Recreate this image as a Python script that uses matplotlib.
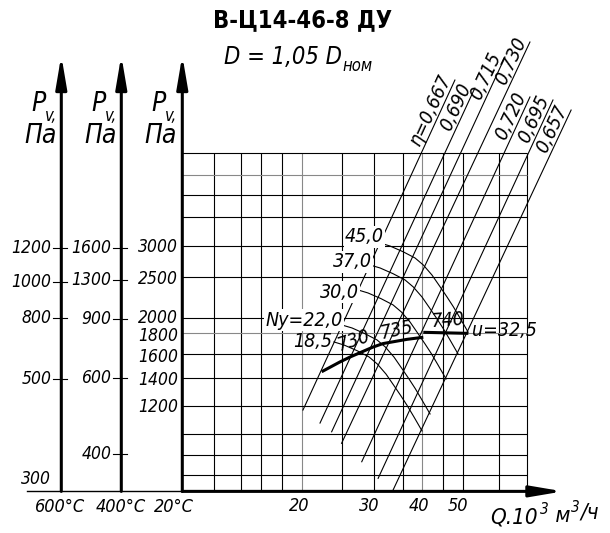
import numpy as np
import matplotlib
matplotlib.use('Agg')
import matplotlib.pyplot as plt
import matplotlib.transforms as mtransforms
from matplotlib import font_manager
from matplotlib.font_manager import FontProperties

# === Fonts: look for a narrow face, it is closest to the drafting font ===
PREFER = ['liberationsansnarrow', 'dejavusanscondensed', 'robotocondensed',
          'opensanscondensed', 'opensans_condensed', 'notosanscondensed', 'condensed', 'narrow']


def find_face(italic, bold):
    best, best_rank = None, 99
    for f in font_manager.fontManager.ttflist:
        fn = f.fname.lower().replace('-', '').replace(' ', '')
        rank = next((i for i, k in enumerate(PREFER) if k in fn), None)
        if rank is None:
            continue
        is_it = ('italic' in fn) or ('oblique' in fn)
        is_bf = 'bold' in fn and 'semibold' not in fn
        if is_it != italic or is_bf != bold:
            continue
        if any(k in fn for k in ('light', 'thin', 'medium', 'black', 'extra', 'semi')):
            continue
        if rank < best_rank:
            best, best_rank = f.fname, rank
    return best


IT_FILE = find_face(True, False)
BF_FILE = find_face(False, True)
SCALE = 1.0 if IT_FILE else 0.82


def fp(size, bold=False):
    size = size * (1.0 if (BF_FILE if bold else IT_FILE) else SCALE)
    if bold:
        if BF_FILE:
            return FontProperties(fname=BF_FILE, size=size)
        return FontProperties(family='DejaVu Sans', weight='bold', size=size)
    if IT_FILE:
        return FontProperties(fname=IT_FILE, size=size)
    return FontProperties(family='DejaVu Sans', style='oblique', size=size)


# === Data (Q in 10^3 m3/h, P in Pa on the 20 C scale) ===
grid_q = [12, 14, 15.8, 17.8, 20, 25.2, 30.2, 35.7, 40, 45, 50.5, 62.4, 73.3]
grid_p = [809, 907, 1021, 1200, 1411, 1613, 1818, 1988, 2504, 3000, 3528, 4008, 4494, 5086]
q_ticks = [20, 30, 40, 50]
p20_ticks = [3000, 2500, 2000, 1800, 1600, 1400, 1200]

# side scales: label text and the 20 C pressure at the same height
p400_labels = ['1600', '1300', '900', '600', '400']
p400_pos = [2966, 2466, 1974, 1411, 911]
p600_labels = ['1200', '1000', '800', '500', '300']
p600_pos = [2966, 2442, 1982, 1397, 791]

# efficiency lines
eta_labels = ['η=0,667', '0,690', '0,715', '0,730', '0,720', '0,695', '0,657']
eta_q0 = [20.08, 22.16, 23.7, 25.1, 28.2, 31.0, 33.8]
eta_p0 = [1173, 1089, 1036, 970, 873, 794, 743]
eta_q1 = [48.3, 54.2, 64.5, 74.5, 74.5, 85.1, 94.5]
eta_p1 = [7731, 7386, 8816, 9607, 7018, 6898, 6513]

# P-Q curves for each motor power
q_45 = [31.33, 33.20, 35.79, 38.36, 40.24, 42.31, 44.32, 46.15, 47.86, 49.74, 52.11]
p_45 = [3047, 2995, 2899, 2797, 2687, 2537, 2374, 2238, 2117, 1985, 1832]
q_37 = [29.57, 31.34, 33.78, 36.21, 37.98, 39.94, 41.84, 43.56, 45.18, 46.95, 49.19]
p_37 = [2687, 2642, 2557, 2467, 2370, 2238, 2094, 1974, 1867, 1751, 1616]
q_30 = [27.60, 29.24, 31.52, 33.79, 35.44, 37.27, 39.04, 40.65, 42.16, 43.81, 45.90]
p_30 = [2330, 2290, 2217, 2139, 2055, 1940, 1815, 1711, 1619, 1518, 1401]
q_22 = [25.15, 26.66, 28.74, 30.80, 32.31, 33.97, 35.58, 37.05, 38.43, 39.94, 41.84]
p_22 = [1907, 1875, 1814, 1751, 1682, 1588, 1486, 1401, 1325, 1242, 1147]
q_185 = [24.02, 25.45, 27.44, 29.41, 30.85, 32.44, 33.98, 35.38, 36.69, 38.14, 39.95]
p_185 = [1731, 1701, 1647, 1589, 1526, 1441, 1348, 1271, 1202, 1127, 1041]

# thick working line
work_q = [22.37, 24.86, 26.35, 30.09, 31.88, 36.62, 40.24]
work_p = [1460, 1544, 1588, 1681, 1715, 1757, 1778]
work740_q = [40.24, 52.2]
work740_p = [1829, 1818]

# grid lines that come out lighter in the drawing
light_q = [20, 40]
light_p = [1818, 4494]

# === Figure ===
W, H = 610, 533
fig = plt.figure(figsize=(W / 100, H / 100), dpi=100)
ax = fig.add_axes([0, 0, 1, 1])
ax.set_xscale('log')
ax.set_yscale('log')
ax.set_xlim(3.49, 118.3)
ax.set_ylim(581, 12215)
ax.axis('off')


def T(x, y, s, size=15, **kw):
    # text placed by pixel position in the figure
    return fig.text(x / W, 1 - y / H, s, fontproperties=fp(size), color='k', **kw)


P_BOT, P_TOP = 737, grid_p[-1]
Q_EDGE = grid_q[-1]
P_ARROW = 8900
Q_ARROW = 90.2

# grid
for q in grid_q:
    ax.vlines(q, P_BOT, P_TOP, color='#888888' if q in light_q else 'k', lw=0.8, zorder=1)
for p in grid_p:
    ax.hlines(p, 10, Q_EDGE, color='#888888' if p in light_p else 'k', lw=0.8, zorder=1)

# main axes with arrows
arr = dict(arrowstyle='-|>,head_length=1.3,head_width=0.22', lw=2.2, color='k',
           mutation_scale=15, shrinkA=0, shrinkB=0)
ax.annotate('', xy=(Q_ARROW, P_BOT), xytext=(10, P_BOT), arrowprops=arr, zorder=5)
blend = mtransforms.blended_transform_factory(ax.transAxes, ax.transData)
ax.plot([27 / W, 182.3 / W], [P_BOT, P_BOT], color='k', lw=1.0, transform=blend)
for xf in [61.3 / W, 121.3 / W, 182.3 / W]:
    ax.annotate('', xy=(xf, P_ARROW), xytext=(xf, P_BOT), xycoords=blend,
                textcoords=blend, arrowprops=arr, zorder=5)

# side scale ticks and labels
for xf, labs, pos in [(61.3 / W, p600_labels, p600_pos), (121.3 / W, p400_labels, p400_pos)]:
    for lab, p in zip(labs, pos):
        if lab != '300':
            ax.plot([xf - 8 / W, xf + 6 / W], [p, p], color='k', lw=0.8, transform=blend)
        ax.annotate(lab, (xf, p), xycoords=blend, xytext=(-10, 0), textcoords='offset pixels',
                    ha='right', va='center', fontproperties=fp(12.5))
for p in p20_ticks:
    ax.annotate(str(p), (10, p), xytext=(-4, -1), textcoords='offset pixels',
                ha='right', va='center', fontproperties=fp(12.5))
for q in q_ticks:
    ax.annotate(str(q), (q, P_BOT), xytext=(-3, -15), textcoords='offset pixels',
                ha='center', va='center', fontproperties=fp(13))

T(60, 507, '600°C', 13, ha='center', va='center')
T(121, 507, '400°C', 13, ha='center', va='center')
T(174, 507, '20°C', 13, ha='center', va='center')

# axis titles
for x in [38, 98, 158]:
    t = T(x, 104, 'P', 19, ha='center', va='center')
    ax.annotate('v,', xy=(1.0, 0.05), xycoords=t, ha='left', va='center', fontproperties=fp(12))
    T(x + 3, 136, 'Па', 19, ha='center', va='center')
t = T(490, 518, 'Q.10', 16, ha='left', va='center')
t2 = ax.annotate('3', xy=(1.05, 0.9), xycoords=t, ha='left', va='center', fontproperties=fp(11))
t3 = ax.annotate(' м', xy=(1.0, 0.1), xycoords=t2, ha='left', va='center', fontproperties=fp(16))
t4 = ax.annotate('3', xy=(1.05, 0.95), xycoords=t3, ha='left', va='center', fontproperties=fp(11))
ax.annotate('/ч', xy=(1.0, 0.1), xycoords=t4, ha='left', va='center', fontproperties=fp(16))

# title
fig.text(303 / W, 1 - 20 / H, 'В-Ц14-46-8 ДУ', ha='center', va='center',
         fontproperties=fp(17, bold=True), color='k')
t = T(224, 57, 'D = 1,05 D', 17, ha='left', va='center')
ax.annotate('ном', xy=(1.0, 0.12), xycoords=t, ha='left', va='center', fontproperties=fp(12))

# efficiency lines with labels along them
for lab, q0, p0, q1, p1 in zip(eta_labels, eta_q0, eta_p0, eta_q1, eta_p1):
    ax.plot([q0, q1], [p0, p1], color='k', lw=0.8, zorder=2)
    x0, y0 = ax.transData.transform((q0, p0))
    x1, y1 = ax.transData.transform((q1, p1))
    ang = np.degrees(np.arctan2(y1 - y0, x1 - x0))
    ax.text(q1, p1, lab, rotation=ang, rotation_mode='anchor', ha='right', va='bottom',
            fontproperties=fp(14), color='k')

# power curves
for qs, ps in [(q_45, p_45), (q_37, p_37), (q_30, p_30), (q_22, p_22), (q_185, p_185)]:
    ax.plot(qs, ps, color='k', lw=0.8, zorder=2)

box = dict(facecolor='white', edgecolor='none', pad=1.0)
T(384, 236.7, '45,0', 14, ha='right', va='center', bbox=box, zorder=3)
T(372, 261.7, '37,0', 14, ha='right', va='center', bbox=box, zorder=3)
T(359, 292, '30,0', 14, ha='right', va='center', bbox=box, zorder=3)
T(343, 320, 'Ny=22,0', 14, ha='right', va='center', bbox=box, zorder=3)
T(332, 341.5, '18,5', 14, ha='right', va='center', zorder=3)

# working line
ax.plot(work_q, work_p, color='k', lw=2.2, zorder=4, solid_capstyle='butt')
ax.plot(work740_q, work740_p, color='k', lw=2.2, zorder=4, solid_capstyle='butt')
T(354, 341, '730', 14, ha='center', va='center', rotation=18)
T(396.5, 330, '735', 14, ha='center', va='center', rotation=12)
T(447.5, 320.5, '740', 14, ha='center', va='center', rotation=4)
T(471.7, 331, 'u=32,5', 14, ha='left', va='center')

fig.savefig('out.png', dpi=100)
